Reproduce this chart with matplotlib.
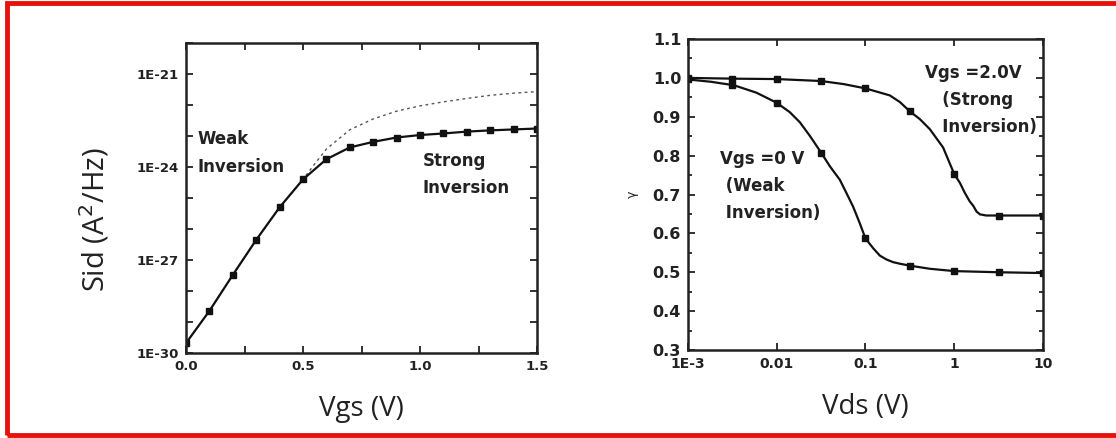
import numpy as np
import matplotlib.pyplot as plt
from matplotlib.patches import Rectangle

# left panel: Sid vs Vgs (log10 of A^2/Hz)
vgs = [0.0, 0.1, 0.2, 0.3, 0.4, 0.5, 0.6, 0.7, 0.8, 0.9, 1.0, 1.1, 1.2, 1.3, 1.4, 1.5]
sid_log = [-29.68, -28.64, -27.48, -26.35, -25.30, -24.40, -23.75, -23.37, -23.19,
           -23.05, -22.97, -22.92, -22.86, -22.82, -22.79, -22.76]
vgs_dash = [0.0, 0.1, 0.2, 0.3, 0.4, 0.5, 0.55, 0.6, 0.7, 0.8, 0.9, 1.0, 1.1, 1.2, 1.3, 1.4, 1.5]
sid_dash_log = [-29.68, -28.64, -27.48, -26.35, -25.30, -24.40, -23.90, -23.42, -22.80, -22.45,
                -22.20, -22.03, -21.90, -21.79, -21.69, -21.62, -21.57]

# right panel: gamma vs Vds
vds_mk = [1e-3, 3.16e-3, 0.01, 0.0316, 0.1, 0.316, 1.0, 3.16, 10.0]
g_strong_mk = [1.000, 0.998, 0.997, 0.992, 0.973, 0.914, 0.753, 0.646, 0.646]
g_weak_mk = [0.996, 0.981, 0.936, 0.808, 0.587, 0.517, 0.503, 0.500, 0.498]
vds_strong = [1e-3, 3.3e-3, 0.01, 0.0316, 0.057, 0.1, 0.188, 0.244, 0.316, 0.41, 0.532, 0.75,
              1.0, 1.16, 1.32, 1.5, 1.64, 1.79, 1.95, 2.3, 3.16, 10.0]
g_strong = [1.000, 0.998, 0.997, 0.992, 0.984, 0.973, 0.955, 0.938, 0.914, 0.894, 0.868, 0.821,
            0.753, 0.730, 0.704, 0.682, 0.671, 0.656, 0.649, 0.646, 0.646, 0.646]
vds_weak = [1e-3, 1.82e-3, 3.3e-3, 5.9e-3, 0.01, 0.014, 0.0182, 0.0236, 0.0316, 0.0396, 0.0514,
            0.061, 0.0725, 0.0863, 0.1, 0.122, 0.145, 0.172, 0.205, 0.244, 0.316, 0.53, 1.0, 3.16, 10.0]
g_weak = [0.996, 0.990, 0.981, 0.962, 0.936, 0.912, 0.886, 0.851, 0.808, 0.773, 0.738,
          0.704, 0.669, 0.626, 0.587, 0.562, 0.543, 0.533, 0.526, 0.522, 0.517, 0.509, 0.503, 0.500, 0.498]

fig = plt.figure(figsize=(11.16, 4.38), dpi=100)
fig.patches.append(Rectangle((7 / 1116, 3 / 438), 1.2, 432 / 438, transform=fig.transFigure,
                             fill=False, edgecolor='#e8120c', linewidth=3.5))

tickfont = dict(family='DejaVu Sans', weight='bold')
notefont = dict(fontsize=12, weight='bold', color='#222222', linespacing=1.65)

# ---- left
ax1 = fig.add_axes([0.1667, 0.194, 0.3145, 0.708])
ax1.plot(vgs_dash, 10.0 ** np.array(sid_dash_log), color='#555555', lw=1.0, ls=(0, (2, 2.5)))
ax1.plot(vgs, 10.0 ** np.array(sid_log), color='#111111', lw=1.6, marker='s', ms=4.5)
ax1.set_yscale('log')
ax1.set_xlim(0, 1.5)
ax1.set_ylim(1e-30, 1e-20)
decs = np.arange(-30, -19)
ax1.set_yticks(10.0 ** decs)
ax1.set_yticklabels(['1E%d' % d if d in (-30, -27, -24, -21) else '' for d in decs],
                    fontsize=9.5, **tickfont)
ax1.yaxis.set_minor_locator(plt.NullLocator())
ax1.set_xticks([0, 0.25, 0.5, 0.75, 1.0, 1.25, 1.5])
ax1.set_xticklabels(['0.0', '', '0.5', '', '1.0', '', '1.5'], fontsize=9.5, **tickfont)
ax1.set_xlabel('Vgs (V)', fontsize=20, family='Open Sans', color='#222222', labelpad=16)
ax1.set_ylabel('Sid (A$^2$/Hz)', fontsize=21, family='Open Sans', color='#222222')
ax1.yaxis.set_label_coords(-0.212, 0.43)
ax1.text(0.05, 10 ** -23.55, 'Weak\nInversion', va='center', ha='left', **notefont)
ax1.text(1.01, 10 ** -24.25, 'Strong\nInversion', va='center', ha='left', **notefont)

# ---- right
ax2 = fig.add_axes([0.6165, 0.2009, 0.318, 0.710])
ax2.plot(vds_strong, g_strong, color='#111111', lw=1.6)
ax2.plot(vds_mk, g_strong_mk, ls='none', color='#111111', marker='s', ms=4.5)
ax2.plot(vds_weak, g_weak, color='#111111', lw=1.6)
ax2.plot(vds_mk, g_weak_mk, ls='none', color='#111111', marker='s', ms=4.5)
ax2.set_xscale('log')
ax2.set_xlim(1e-3, 10)
ax2.set_ylim(0.3, 1.1)
ax2.set_xticks([1e-3, 0.01, 0.1, 1, 10])
ax2.set_xticklabels(['1E-3', '0.01', '0.1', '1', '10'], fontsize=10, **tickfont)
ax2.xaxis.set_minor_locator(plt.NullLocator())
ax2.set_yticks(np.arange(0.3, 1.11, 0.1))
ax2.set_yticklabels(['%.1f' % v for v in np.arange(0.3, 1.11, 0.1)], fontsize=11.5, **tickfont)
ax2.set_yticks(np.arange(0.35, 1.1, 0.1), minor=True)
ax2.set_xlabel('Vds (V)', fontsize=20, family='Open Sans', color='#222222', labelpad=16)
ax2.set_ylabel('γ', fontsize=9, color='#222222', labelpad=10)
ax2.text(0.47, 0.943, 'Vgs =2.0V\n   (Strong\n   Inversion)', va='center', ha='left', **notefont)
ax2.text(0.0023, 0.722, 'Vgs =0 V\n (Weak\n Inversion)', va='center', ha='left', **notefont)

for ax in (ax1, ax2):
    for s in ax.spines.values():
        s.set_linewidth(1.8)
        s.set_color('#222222')
    ax.tick_params(which='both', direction='in', top=True, right=True, width=1.3,
                   color='#222222', labelcolor='#222222')
    ax.tick_params(which='major', length=5, pad=5)
    ax.tick_params(which='minor', length=3)

fig.savefig('out.png', dpi=100, facecolor='white')
